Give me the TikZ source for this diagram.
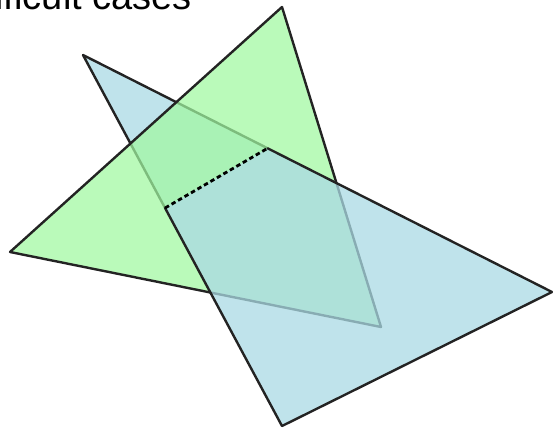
\documentclass[tikz,border=0pt]{standalone}
\usepackage{fontspec}
\setmainfont{Liberation Sans}
\usetikzlibrary{calc}
\definecolor{greenfill}{RGB}{160,248,160}
\definecolor{bluefill}{RGB}{170,218,228}
\definecolor{edgecol}{RGB}{35,35,35}
\tikzset{
  shapeedge/.style={draw=edgecol, line width=2.4pt, line join=round, line cap=round},
  greenpoly/.style={shapeedge, fill=greenfill, fill opacity=0.72},
  bluepoly/.style={fill=bluefill, fill opacity=0.75},
  splitline/.style={draw=black, line width=2.8pt, dash pattern=on 4.5pt off 3pt},
  titletext/.style={anchor=base west, inner sep=0pt, font=\fontsize{38}{42}\selectfont}
}
\begin{document}
\begin{tikzpicture}[x=1pt,y=-1pt]
\useasboundingbox (0,0) rectangle (553,428);
\clip (0,0) rectangle (553,428);
% title (cropped by the page)
\node[titletext] (title) at (-42,10) {Difficult cases};
% blue triangle vertices
\coordinate (A) at (83,55);
\coordinate (R) at (552,292);
\coordinate (B) at (282,426);
\coordinate (P1) at ($(A)!0.4124!(B)$);
\coordinate (P2) at ($(A)!0.3936!(R)$);
% green triangle vertices
\coordinate (T) at (282,7);
\coordinate (L) at (10,252);
\coordinate (M) at (381,327);
% blue part lying under the green triangle
\fill[bluepoly] (A) -- (P2) -- (P1) -- cycle;
\draw[shapeedge] (P1) -- (A) -- (P2);
% green triangle
\path[greenpoly] (T) -- (M) -- (L) -- cycle;
% blue part lying over the green triangle
\fill[bluepoly] (P1) -- (P2) -- (R) -- (B) -- cycle;
\draw[shapeedge] (P2) -- (R) -- (B) -- (P1);
% split line
\draw[splitline] (P1) -- (P2);
\end{tikzpicture}
\end{document}
